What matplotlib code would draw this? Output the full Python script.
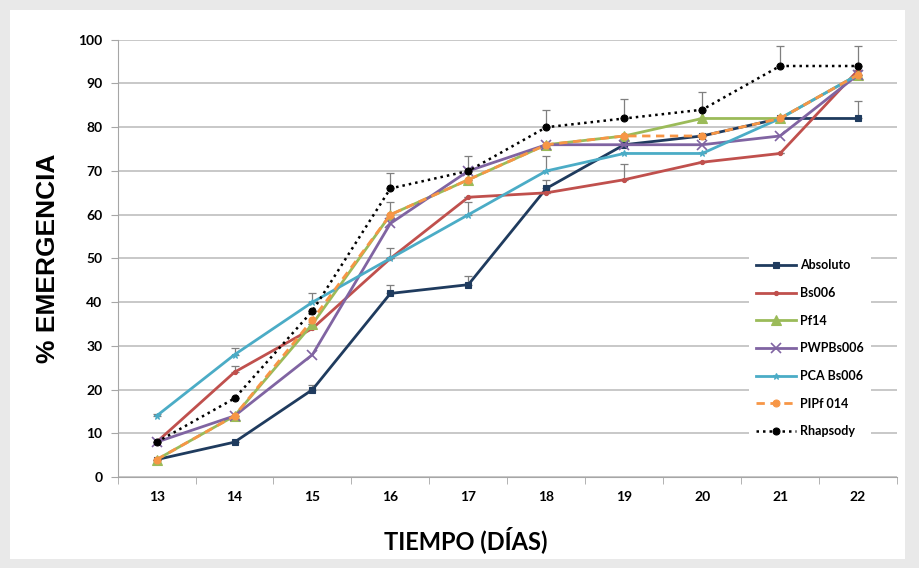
import matplotlib.pyplot as plt
import matplotlib.patches as mpatches
import numpy as np

days = [13, 14, 15, 16, 17, 18, 19, 20, 21, 22]

absoluto = [4, 8, 20, 42, 44, 66, 76, 78, 82, 82]
bs006 = [8, 24, 34, 50, 64, 65, 68, 72, 74, 93]
pf14 = [4, 14, 35, 60, 68, 76, 78, 82, 82, 92]
pwpbs006 = [8, 14, 28, 58, 70, 76, 76, 76, 78, 92]
pca_bs006 = [14, 28, 40, 50, 60, 70, 74, 74, 82, 92]
pipf014 = [4, 14, 36, 60, 68, 76, 78, 78, 82, 92]
rhapsody = [8, 18, 38, 66, 70, 80, 82, 84, 94, 94]

# upper error (only the upper half is visible)
err_absoluto = [0, 0, 1, 2, 2, 2, 0, 0, 0, 4]
err_bs006 = [0, 1.5, 0, 0, 0, 0, 3.5, 0, 0, 0]
err_pf14 = [0, 0, 0, 3, 0, 0, 0, 0, 0, 0]
err_pca = [0.5, 1.5, 2, 2.5, 3, 3.5, 0, 0, 0, 0]
err_rhapsody = [0, 0, 0, 3.5, 3.5, 4, 4.5, 4, 4.5, 4.5]

series = [
    ("Absoluto", absoluto, err_absoluto, "#1f3b5e", "-", "s", 4),
    ("Bs006", bs006, err_bs006, "#c0504d", "-", "o", 3),
    ("Pf14", pf14, err_pf14, "#9bbb59", "-", "^", 7),
    ("PWPBs006", pwpbs006, None, "#8064a2", "-", "x", 7),
    ("PCA Bs006", pca_bs006, err_pca, "#4bacc6", "-", "*", 5),
    ("PIPf 014", pipf014, None, "#f79646", (0, (3, 2)), "o", 5),
    ("Rhapsody", rhapsody, err_rhapsody, "black", (0, (1, 1.6)), "o", 5),
]

fig = plt.figure(figsize=(9.19, 5.68), dpi=100, facecolor="#e9e9e9")
fig.patches.append(mpatches.Rectangle((0.011, 0.015), 0.974, 0.968, transform=fig.transFigure,
                                      facecolor="white", edgecolor="none", zorder=-5))
ax = fig.add_axes([0.128, 0.160, 0.848, 0.770])
ax.set_facecolor("white")

for name, vals, err, color, ls, mk, ms in series:
    if err is not None:
        ax.errorbar(days, vals, yerr=[np.zeros(len(err)), err], fmt="none", ecolor="#7f7f7f",
                    elinewidth=0.9, capsize=3, capthick=0.9, zorder=2)
    ax.plot(days, vals, color=color, linestyle=ls, linewidth=2 if name != "Rhapsody" else 1.8,
            marker=mk, markersize=ms, markeredgewidth=1.2 if mk == "x" else 0.8,
            label=name, zorder=3)

ax.set_xlim(12.5, 22.5)
ax.set_ylim(0, 100)
ax.set_xticks(days)
ax.set_xticks(np.arange(12.5, 23, 1), minor=True)
ax.set_yticks(range(0, 101, 10))
ax.tick_params(axis="x", which="major", length=0, pad=10)
ax.tick_params(axis="x", which="minor", length=5, color="#a6a6a6")
ax.tick_params(axis="y", length=5, color="#a6a6a6", pad=6)
for lab in ax.get_xticklabels() + ax.get_yticklabels():
    lab.set_fontfamily("Lato")
    lab.set_fontweight("bold")
    lab.set_fontsize(10)

ax.grid(True, axis="y", color="#bfbfbf", linewidth=1.2)
ax.set_axisbelow(True)
for s in ["top", "right"]:
    ax.spines[s].set_visible(False)
ax.spines["left"].set_color("#a6a6a6")
ax.spines["bottom"].set_color("#a6a6a6")

ax.set_xlabel("TIEMPO (DÍAS)", fontfamily="Lato", fontweight="bold", fontsize=17)
ax.xaxis.set_label_coords(0.447, -0.112)
ax.set_ylabel("% EMERGENCIA", fontfamily="Liberation Sans", fontweight="bold", fontsize=19)
ax.yaxis.set_label_coords(-0.074, 0.5)

leg = ax.legend(loc="lower right", bbox_to_anchor=(0.975, 0.06), frameon=True, fancybox=False,
                edgecolor="none", facecolor="white", framealpha=1,
                prop={"family": "Lato", "weight": "bold", "size": 9},
                handlelength=3.2, handletextpad=0.3, labelspacing=1.25, borderpad=0.6)

fig.savefig("out.png", dpi=100, facecolor=fig.get_facecolor())
